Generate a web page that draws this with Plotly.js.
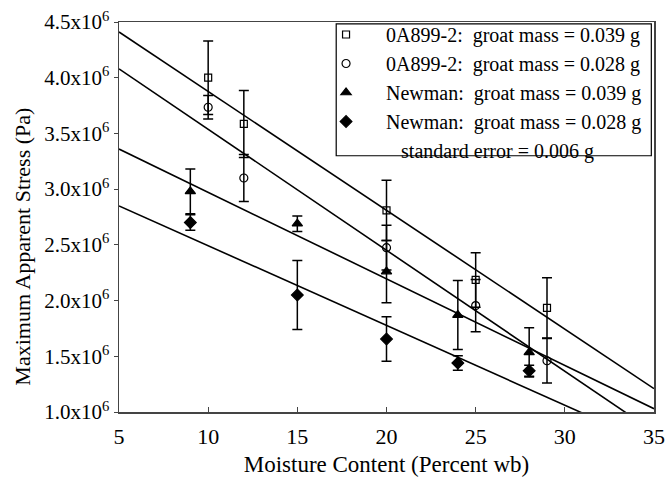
<!DOCTYPE html>
<html>
<head>
<meta charset="utf-8">
<script src="https://cdn.plot.ly/plotly-3.0.1.min.js"></script>
<style>html,body{margin:0;padding:0;background:#fff;}#chart{width:668px;height:478px;}</style>
</head>
<body>
<div id="chart"></div>
<script>
// Series: 0A899-2, groat mass 0.039 g (open squares)
const oaHeavyX = [10, 12, 20, 25, 29];
const oaHeavyY = [4.0e6, 3.585e6, 2.81e6, 2.185e6, 1.935e6];
const oaHeavyErr = [0.33e6, 0.30e6, 0.27e6, 0.245e6, 0.27e6];
// Series: 0A899-2, groat mass 0.028 g (open circles)
const oaLightX = [10, 12, 20, 25, 29];
const oaLightY = [3.735e6, 3.10e6, 2.475e6, 1.955e6, 1.46e6];
const oaLightErr = [0.105e6, 0.21e6, 0.20e6, 0.235e6, 0.20e6];
// Series: Newman, groat mass 0.039 g (filled triangles)
const nwHeavyX = [9, 15, 20, 24, 28];
const nwHeavyY = [2.98e6, 2.69e6, 2.26e6, 1.87e6, 1.535e6];
const nwHeavyErr = [0.20e6, 0.07e6, 0.28e6, 0.31e6, 0.22e6];
// Series: Newman, groat mass 0.028 g (filled diamonds)
const nwLightX = [9, 15, 20, 24, 28];
const nwLightY = [2.70e6, 2.05e6, 1.655e6, 1.44e6, 1.37e6];
const nwLightErr = [0.07e6, 0.31e6, 0.20e6, 0.065e6, 0.05e6];

// Regression line end points
const fitX = [5, 35];
const fitOaHeavy = [4.41e6, 1.21e6];
const fitOaLight = [4.08e6, 0.823e6];
const fitNwHeavy = [3.36e6, 1.03e6];
const fitNwLight = [2.85e6, 0.703e6];

const seriesNames = [
  "0A899-2:\u00a0 groat mass = 0.039 g",
  "0A899-2:\u00a0 groat mass = 0.028 g",
  "Newman:\u00a0 groat mass = 0.039 g",
  "Newman:\u00a0 groat mass = 0.028 g"
];
const noteText = "standard error = 0.006 g";

const yTickVals = [1.0e6, 1.5e6, 2.0e6, 2.5e6, 3.0e6, 3.5e6, 4.0e6, 4.5e6];
const yTickText = ["1.0", "1.5", "2.0", "2.5", "3.0", "3.5", "4.0", "4.5"].map(s => s + "x10<sup>6</sup>");
const xTickVals = [5, 10, 15, 20, 25, 30, 35];

const FONT = "Liberation Serif, Times New Roman, serif";
const PAD = "\u00a0\u00a0\u00a0\u00a0";

function pts(x, y, err, name, symbol, size) {
  return {
    type: "scatter", mode: "markers", x: x, y: y, name: PAD + name,
    marker: {symbol: symbol, size: size, color: "#000", line: {color: "#000", width: 1.2}},
    error_y: {type: "data", array: err, visible: true, color: "#000", thickness: 1.5, width: 5},
    cliponaxis: false
  };
}
function fit(y) {
  return {type: "scatter", mode: "lines", x: fitX, y: y, showlegend: false,
    line: {color: "#000", width: 1.6}, hoverinfo: "skip"};
}

const data = [
  fit(fitOaHeavy), fit(fitOaLight), fit(fitNwHeavy), fit(fitNwLight),
  pts(oaHeavyX, oaHeavyY, oaHeavyErr, seriesNames[0], "square-open", 7),
  pts(oaLightX, oaLightY, oaLightErr, seriesNames[1], "circle-open", 8),
  pts(nwHeavyX, nwHeavyY, nwHeavyErr, seriesNames[2], "triangle-up", 9),
  pts(nwLightX, nwLightY, nwLightErr, seriesNames[3], "diamond", 9),
  {type: "scatter", mode: "markers", x: [null], y: [null], name: PAD + "\u00a0\u00a0\u00a0" + noteText,
   marker: {size: 1, opacity: 0, color: "#fff"}}
];

const layout = {
  width: 668, height: 478,
  margin: {l: 119, r: 14, t: 22, b: 66},
  paper_bgcolor: "#fff", plot_bgcolor: "#fff",
  font: {family: FONT, color: "#000", size: 20},
  showlegend: true,
  legend: {
    x: 0.387, xanchor: "left", y: 1.018, yanchor: "top",
    bgcolor: "rgba(0,0,0,0)", borderwidth: 0,
    font: {family: FONT, size: 20, color: "#000"},
    itemsizing: "trace"
  },
  xaxis: {
    range: [5, 35], tickvals: xTickVals, ticks: "inside", ticklen: 5, tickcolor: "#444",
    showline: true, linecolor: "#444", linewidth: 1.5, mirror: true,
    showgrid: false, zeroline: false, ticklabelstandoff: 4,
    tickfont: {family: FONT, size: 22, color: "#000"},
    title: {text: "Moisture Content (Percent wb)", font: {family: FONT, size: 23, color: "#000"}, standoff: 8}
  },
  yaxis: {
    range: [1.0e6, 4.5e6], tickvals: yTickVals, ticktext: yTickText,
    ticks: "outside", ticklen: 4, tickcolor: "#444",
    showline: true, linecolor: "#444", linewidth: 1.5, mirror: true,
    showgrid: false, zeroline: false,
    tickfont: {family: FONT, size: 21, color: "#000"}
  },
  annotations: [{
    text: "Maximum Apparent Stress (Pa)", textangle: -90,
    xref: "paper", yref: "paper", x: -0.182, y: 0.423, xanchor: "center", yanchor: "middle",
    showarrow: false, font: {family: FONT, size: 22, color: "#000"}
  }],
  shapes: [{
    type: "rect", xref: "paper", yref: "paper",
    x0: 0.406, x1: 0.995, y0: 0.657, y1: 0.995,
    line: {color: "#000", width: 1.2}, fillcolor: "rgba(0,0,0,0)", layer: "above"
  }]
};

Plotly.newPlot("chart", data, layout, {displayModeBar: false, staticPlot: true});
</script>
</body>
</html>
